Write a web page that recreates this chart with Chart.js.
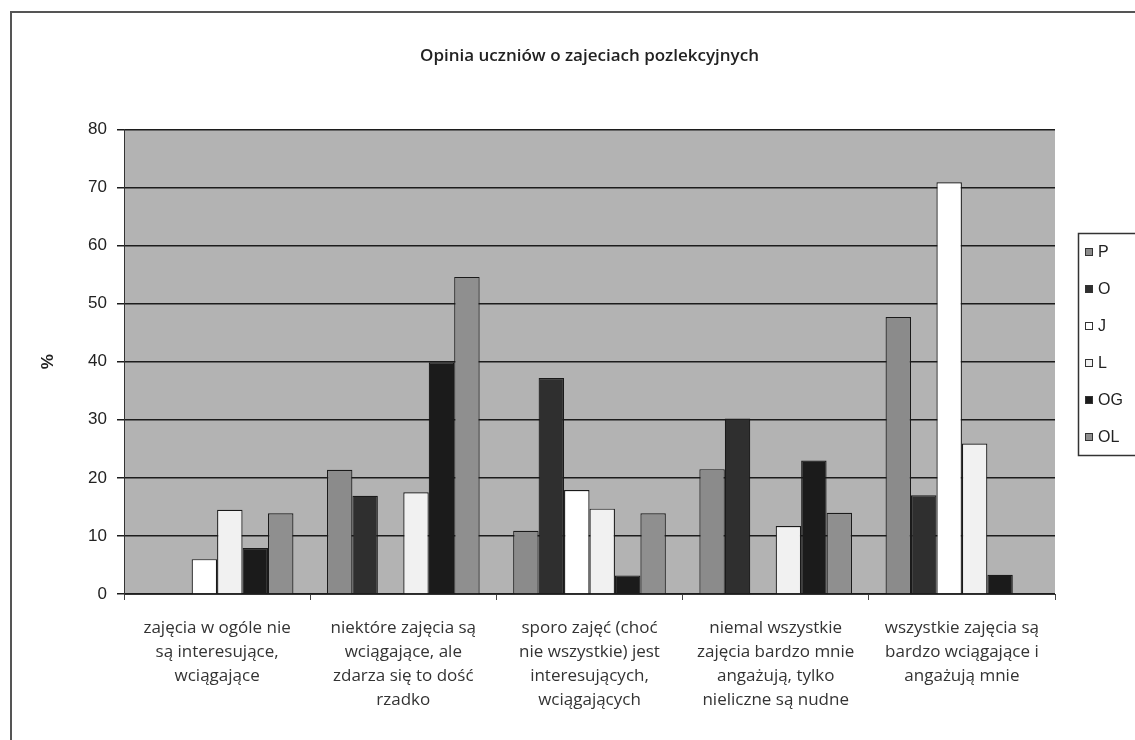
<!DOCTYPE html>
<html>
<head>
<meta charset="utf-8">
<script src="https://cdn.jsdelivr.net/npm/chart.js@4/dist/chart.umd.min.js"></script>
<style>
    html, body { margin: 0; padding: 0; background: #fff; }
    #wrap { width: 1135px; height: 740px; }
</style>
</head>
<body>
<div id="wrap"><canvas id="opinionChart" width="1135" height="740"></canvas></div>
<script>
const categories = [
    ['zajęcia w ogóle nie', 'są interesujące,', 'wciągające'],
    ['niektóre zajęcia są', 'wciągające, ale', 'zdarza się to dość', 'rzadko'],
    ['sporo zajęć (choć', 'nie wszystkie) jest', 'interesujących,', 'wciągających'],
    ['niemal wszystkie', 'zajęcia bardzo mnie', 'angażują, tylko', 'nieliczne są nudne'],
    ['wszystkie zajęcia są', 'bardzo wciągające i', 'angażują mnie']
];

const seriesNames = ['P', 'O', 'J', 'L', 'OG', 'OL'];
const valuesP  = [0, 21.4, 10.9, 21.5, 47.7];
const valuesO  = [0, 16.9, 37.2, 30.2, 17.0];
const valuesJ  = [6.0, 0, 17.9, 0, 70.9];
const valuesL  = [14.5, 17.5, 14.7, 11.7, 25.9];
const valuesOG = [7.9, 39.9, 3.2, 23.0, 3.3];
const valuesOL = [13.9, 54.6, 13.9, 14.0, 0];
const yTicks = [0, 10, 20, 30, 40, 50, 60, 70, 80];

const seriesColors = ['#8b8b8b', '#2f2f2f', '#ffffff', '#f1f1f1', '#1b1b1b', '#8f8f8f'];
const allValues = [valuesP, valuesO, valuesJ, valuesL, valuesOG, valuesOL];

// gray plot background + outer frame
const backdrop = {
    id: 'backdrop',
    beforeDraw(chart) {
        const ctx = chart.ctx;
        const a = chart.chartArea;
        ctx.save();
        ctx.fillStyle = '#b3b3b3';
        ctx.fillRect(a.left, a.top, a.right - a.left, a.bottom - a.top);
        ctx.strokeStyle = '#555';
        ctx.lineWidth = 2;
        ctx.beginPath();
        ctx.moveTo(11, 740);
        ctx.lineTo(11, 12);
        ctx.lineTo(1135, 12);
        ctx.stroke();
        ctx.restore();
    }
};

// legend in a framed box at the right, partly cut off like the original
const boxLegend = {
    id: 'boxLegend',
    afterDraw(chart) {
        const ctx = chart.ctx;
        ctx.save();
        ctx.strokeStyle = '#333';
        ctx.lineWidth = 1.5;
        ctx.strokeRect(1078.5, 233.5, 80, 222);
        ctx.font = '16px "Liberation Sans", Arial, sans-serif';
        ctx.textBaseline = 'middle';
        chart.data.datasets.forEach(function(ds, i) {
            const y = 252 + i * 37;
            ctx.fillStyle = ds.backgroundColor;
            ctx.fillRect(1085, y - 4, 8, 8);
            ctx.strokeStyle = '#333';
            ctx.lineWidth = 1;
            ctx.strokeRect(1085.5, y - 3.5, 7, 7);
            ctx.fillStyle = '#222';
            ctx.fillText(ds.label, 1098, y + 1);
        });
        ctx.restore();
    }
};

const ctx = document.getElementById('opinionChart');
new Chart(ctx, {
    type: 'bar',
    data: {
        labels: categories,
        datasets: seriesNames.map(function(name, i) {
            return {
                label: name,
                data: allValues[i],
                backgroundColor: seriesColors[i],
                borderColor: '#1a1a1a',
                borderWidth: 1.2,
                categoryPercentage: 0.82,
                barPercentage: 1.0
            };
        })
    },
    options: {
        responsive: false,
        animation: false,
        layout: { padding: { left: 30, right: 80, top: 0, bottom: 0 } },
        plugins: {
            legend: { display: false },
            tooltip: { enabled: false },
            title: {
                display: true,
                fullSize: false,
                text: 'Opinia uczniów o zajeciach pozlekcyjnych',
                color: '#222',
                font: { family: '"Open Sans", sans-serif', size: 17, weight: '600' },
                padding: { top: 46, bottom: 63 }
            }
        },
        scales: {
            x: {
                grid: { drawOnChartArea: false, drawTicks: true, tickLength: 6, color: '#444', offset: true },
                border: { display: true, color: '#333' },
                ticks: {
                    maxRotation: 0,
                    autoSkip: false,
                    padding: 16,
                    color: '#333',
                    font: { family: '"Open Sans", sans-serif', size: 17, weight: '500', lineHeight: 1.41 }
                },
                afterFit: function(scale) { scale.height = 146; }
            },
            y: {
                min: 0,
                max: 80,
                afterBuildTicks: function(scale) {
                    scale.ticks = yTicks.map(function(v) { return { value: v }; });
                },
                grid: { color: '#1c1c1c', lineWidth: 1.5, tickLength: 7 },
                border: { display: true, color: '#333' },
                ticks: {
                    padding: 10,
                    color: '#222',
                    font: { family: '"Liberation Sans", Arial, sans-serif', size: 17 }
                },
                title: {
                    display: true,
                    text: '%',
                    color: '#222',
                    font: { family: '"Liberation Sans", Arial, sans-serif', size: 17, weight: 'bold' },
                    padding: { top: 8, bottom: 0 }
                },
                afterFit: function(scale) { scale.width = 94; }
            }
        }
    },
    plugins: [backdrop, boxLegend]
});
</script>
</body>
</html>
